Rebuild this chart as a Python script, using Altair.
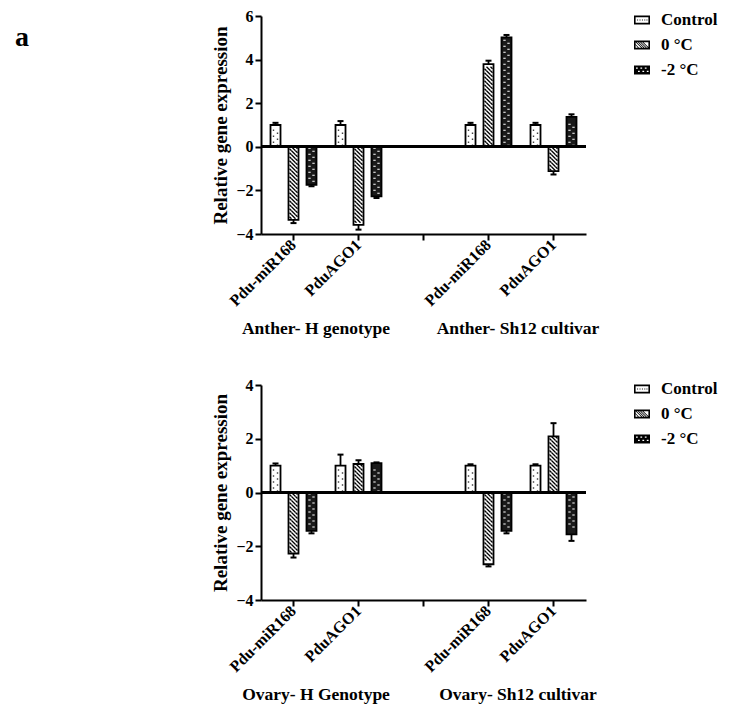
import altair as alt
import pandas as pd

# ---------------- data ----------------
treatments = ["Control", "0 °C", "-2 °C"]
x_categories = ["H|Pdu-miR168", "H|PduAGO1", "gap|", "Sh12|Pdu-miR168", "Sh12|PduAGO1"]
bar_categories = ["H|Pdu-miR168", "H|PduAGO1", "Sh12|Pdu-miR168", "Sh12|PduAGO1"]

anther_groups = ["Anther- H genotype", "Anther- Sh12 cultivar"]
ovary_groups = ["Ovary- H Genotype", "Ovary- Sh12 cultivar"]

anther_control = [1.00, 1.00, 1.00, 1.00]
anther_control_err = [0.10, 0.18, 0.10, 0.10]
anther_0c = [-3.35, -3.58, 3.79, -1.12]
anther_0c_err = [0.15, 0.22, 0.16, 0.15]
anther_m2c = [-1.74, -2.27, 5.02, 1.37]
anther_m2c_err = [0.07, 0.08, 0.11, 0.12]

ovary_control = [1.00, 1.00, 1.00, 1.00]
ovary_control_err = [0.08, 0.41, 0.05, 0.05]
ovary_0c = [-2.27, 1.06, -2.67, 2.09]
ovary_0c_err = [0.15, 0.14, 0.08, 0.49]
ovary_m2c = [-1.43, 1.09, -1.43, -1.56]
ovary_m2c_err = [0.09, 0.03, 0.09, 0.24]

# ---------------- styles ----------------
FONT = "Liberation Serif"
W = 325

# pattern tiles (custom symbol paths, 8px wide tiles at size 64)
DOT_TILE = "M-0.675,-0.55h0.35v0.35h-0.35z M0.325,0.2h0.35v0.35h-0.35z"
HATCH_TILE = "M-0.5,-0.5L0.5,0.5M-1,0L-0.5,0.5M0.5,-0.5L1,0"
DASH_TILE = "M-0.8,-0.5h0.6v0.25h-0.6z M0.2,0.25h0.6v0.25h-0.6z"

# legend swatches (nonzero winding: outer CW, hole CCW, inner marks CW)
_outer = "M-1,-0.55H1V0.55H-1Z"
_hole = "M-0.8,-0.35V0.35H0.8V-0.35Z"
LEG_CONTROL = _outer + _hole + "".join(
    f"M{x - 0.06:.2f},-0.06h0.12v0.12h-0.12z" for x in [-0.55, -0.25, 0.05, 0.35, 0.62]
)
LEG_HATCH = _outer + _hole + "".join(
    f"M{x:.2f},-0.35h0.14L{x + 0.84:.2f},0.35h-0.14Z" for x in [-0.8, -0.52, -0.24, 0.04]
) + "M-0.8,0.0L-0.8,-0.1L-0.38,0.35L-0.52,0.35Z"
LEG_DARK = _outer + "".join(
    f"M{x:.2f},{y:.2f}v0.14h0.22v-0.14z"
    for x, y in [(-0.75, -0.3), (-0.2, -0.3), (0.35, -0.3), (-0.5, 0.1), (0.05, 0.1), (0.6, 0.1)]
)
LEGEND_SWATCHES = [LEG_CONTROL, LEG_HATCH, LEG_DARK]


def long_df(ctrl, ctrl_e, c0, c0_e, c2, c2_e):
    rows = []
    for t, vals, errs in zip(treatments, [ctrl, c0, c2], [ctrl_e, c0_e, c2_e]):
        for cat, v, e in zip(bar_categories, vals, errs):
            rows.append({"cat": cat, "treatment": t, "value": v, "err": e})
    return pd.DataFrame(rows)


def panel(df, ymin, ymax, height, group_names, a_opacity):
    units_per_px = (ymax - ymin) / height
    x = alt.X(
        "cat:N",
        scale=alt.Scale(domain=x_categories, paddingInner=0, paddingOuter=0),
        axis=alt.Axis(
            title=None,
            labelExpr="split(datum.label, '|')[1]",
            labelAngle=-45,
            labelAlign="right",
            labelBaseline="middle",
            labelPadding=2,
            labelFontSize=16,
        ),
    )
    xo = alt.XOffset(
        "treatment:N",
        scale=alt.Scale(domain=treatments, paddingInner=0.444, paddingOuter=0.528),
    )
    yscale = alt.Scale(domain=[ymin, ymax], nice=False, zero=False)
    yaxis = alt.Axis(
        title="Relative gene expression",
        values=list(range(ymin, ymax + 1, 2)),
        titleFontSize=19,
        labelFontSize=16,
        titlePadding=5,
    )

    def Y(field):
        return alt.Y(field, scale=yscale, axis=yaxis)

    base = alt.Chart(df)

    bars_fill = base.mark_bar(strokeWidth=0).encode(
        x=x,
        xOffset=xo,
        y=Y("value:Q"),
        y2=alt.datum(0),
        fill=alt.Fill(
            "treatment:N",
            scale=alt.Scale(domain=treatments, range=["white", "white", "#1a1a1a"]),
            legend=None,
        ),
    )

    def pattern(t, path, tile_px, filled, color, sw):
        step = tile_px * units_per_px
        half = step / 2
        return (
            base.transform_filter(alt.datum.treatment == t)
            .transform_calculate(
                pos=f"sequence({half}, abs(datum.value) - {half} + 0.0001, {step})"
            )
            .transform_flatten(["pos"])
            .transform_calculate(py="datum.value >= 0 ? datum.pos : -datum.pos")
            .mark_point(
                shape=path, size=64, filled=filled, color=color, opacity=1, strokeWidth=sw
            )
            .encode(x=x, xOffset=xo, y=Y("py:Q"))
        )

    pat_ctrl = pattern("Control", DOT_TILE, 6, True, "#444444", 0)
    pat_hatch = pattern("0 °C", HATCH_TILE, 4, False, "black", 1.3)
    pat_dark = pattern("-2 °C", DASH_TILE, 6, True, "white", 0)

    bars_outline = base.mark_bar(
        fillOpacity=0, stroke="black", strokeWidth=1.8
    ).encode(x=x, xOffset=xo, y=Y("value:Q"), y2=alt.datum(0))

    errbase = base.transform_calculate(
        ehi="datum.value >= 0 ? datum.value + datum.err : datum.value - datum.err"
    )
    err_rule = errbase.mark_rule(color="black", strokeWidth=1.8).encode(
        x=x, xOffset=xo, y=Y("value:Q"), y2="ehi:Q"
    )
    err_cap = errbase.mark_tick(
        color="black", thickness=2, size=6, orient="horizontal", opacity=1
    ).encode(x=x, xOffset=xo, y=Y("ehi:Q"))

    zero = base.mark_rule(color="black", strokeWidth=2.6).encode(
        y=alt.datum(0)
    )

    txt_df = pd.DataFrame({"k": [0]})

    # manual legend (swatches drawn as custom symbol paths)
    legend_layers = []
    for i, (t, sw_path) in enumerate(zip(treatments, LEGEND_SWATCHES)):
        legend_layers.append(
            alt.Chart(txt_df).mark_point(
                shape=sw_path, size=256, filled=True, color="black", opacity=1
            ).encode(x=alt.value(W + 56), y=alt.value(4 + 25 * i))
        )
        legend_layers.append(
            alt.Chart(txt_df).mark_text(
                text=t, font=FONT, fontSize=17, fontWeight="bold", color="black",
                align="left", baseline="middle",
            ).encode(x=alt.value(W + 75), y=alt.value(4 + 25 * i))
        )

    g1 = alt.Chart(txt_df).mark_text(
        text=group_names[0], font=FONT, fontSize=17.5, fontWeight="bold", color="black"
    ).encode(x=alt.value(55), y=alt.value(height + 95))
    g2 = alt.Chart(txt_df).mark_text(
        text=group_names[1], font=FONT, fontSize=17.5, fontWeight="bold", color="black"
    ).encode(x=alt.value(257), y=alt.value(height + 95))
    a_lbl = alt.Chart(txt_df).mark_text(
        text="a", font=FONT, fontSize=28, fontWeight="bold", color="black",
        align="left", opacity=a_opacity,
    ).encode(x=alt.value(-246), y=alt.value(22))

    return alt.layer(
        bars_fill, pat_ctrl, pat_hatch, pat_dark, bars_outline,
        err_rule, err_cap, zero, *legend_layers, g1, g2, a_lbl,
    ).properties(width=W, height=height)


top = panel(
    long_df(anther_control, anther_control_err, anther_0c, anther_0c_err, anther_m2c, anther_m2c_err),
    -4, 6, 218, anther_groups, 1,
)
bottom = panel(
    long_df(ovary_control, ovary_control_err, ovary_0c, ovary_0c_err, ovary_m2c, ovary_m2c_err),
    -4, 4, 215, ovary_groups, 0,
)

chart = (
    alt.vconcat(top, bottom, spacing=151, bounds="flush")
    .resolve_scale(y="independent", fill="independent")
    .properties(padding={"left": 7, "top": 0, "right": 0, "bottom": 0}, background="white")
    .configure_view(stroke=None)
    .configure_axis(
        domainColor="black",
        domainWidth=2,
        tickColor="black",
        tickWidth=2,
        tickSize=6,
        labelFont=FONT,
        labelFontWeight="bold",
        labelColor="black",
        titleFont=FONT,
        titleFontWeight="bold",
        titleColor="black",
        grid=False,
    )
)

chart.save("out.html", embed_options={"renderer": "svg", "actions": False})
